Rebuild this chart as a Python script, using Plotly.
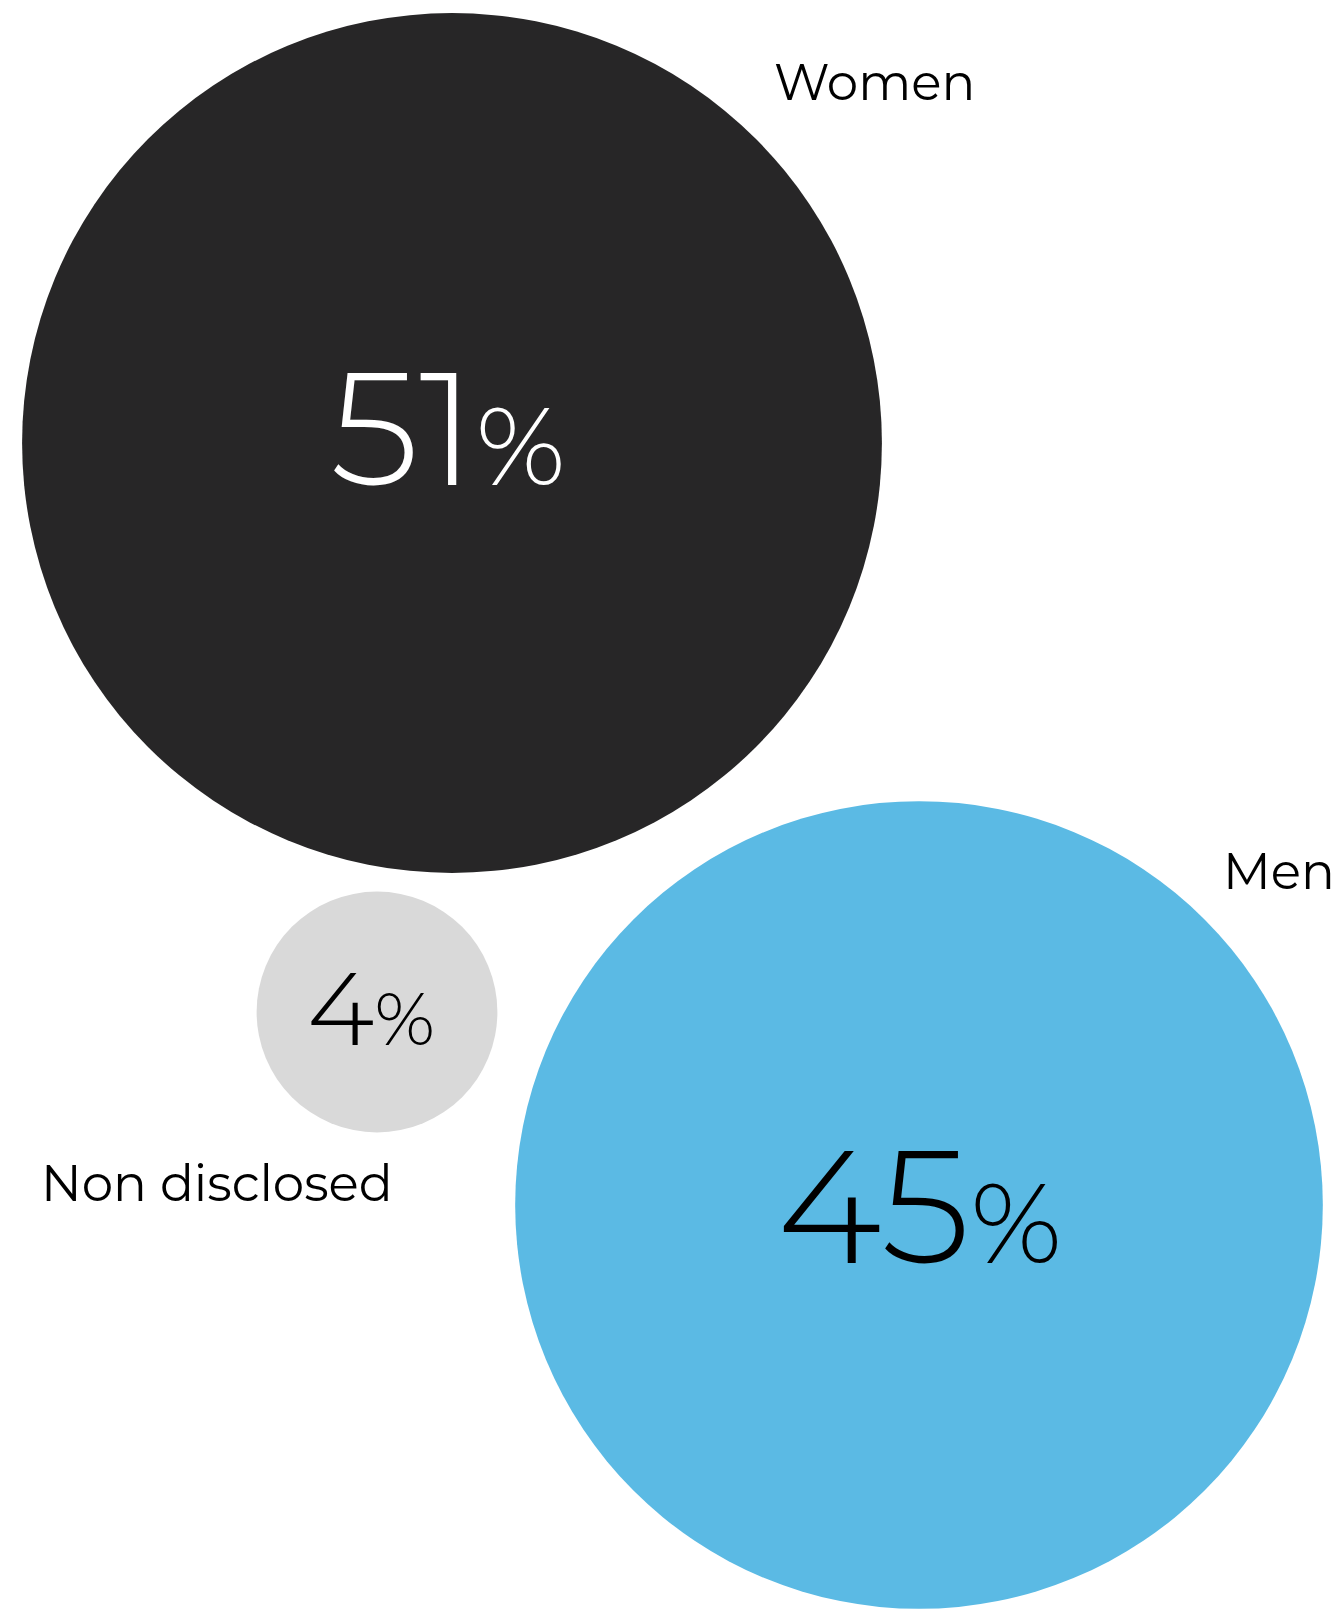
import math
import plotly.graph_objects as go

# ---- data ----
categories = ["Women", "Men", "Non disclosed"]
values = [51, 45, 4]

# ---- layout (pixel coordinates of bubble centres and label anchors) ----
centers_x = [452, 919, 377]
centers_y = [443, 1205, 1012]
pct_x = [448, 919, 371]
pct_y = [427, 1205, 1008]
label_x = [874, 1279, 217]
label_y = [82, 871, 1183]
colors = ["#272627", "#5BBAE4", "#D9D9D9"]
text_colors = ["#FFFFFF", "#000000", "#000000"]
num_sizes = [160, 160, 103]
pct_sizes = [110, 112, 74]

W, H = 1343, 1612
K = 60.2  # radius per sqrt(percentage point), px

diam = [2 * K * math.sqrt(v) for v in values]

FONT = "Montserrat, Lato, Inter, sans-serif"

fig = go.Figure()
fig.add_trace(go.Scatter(
    x=centers_x, y=centers_y, mode="markers",
    marker=dict(size=diam, sizemode="diameter", color=colors, opacity=1,
                line=dict(width=0)),
    hoverinfo="skip", showlegend=False,
))

annotations = []
for i, cat in enumerate(categories):
    annotations.append(dict(
        x=pct_x[i], y=pct_y[i], xref="x", yref="y",
        text=f"{values[i]}<span style='font-size:{pct_sizes[i]}px'>%</span>",
        showarrow=False, xanchor="center", yanchor="middle",
        font=dict(family=FONT, size=num_sizes[i], color=text_colors[i], weight=300),
    ))
    annotations.append(dict(
        x=label_x[i], y=label_y[i], xref="x", yref="y",
        text=cat, showarrow=False, xanchor="center", yanchor="middle",
        font=dict(family=FONT, size=50, color="#000000", weight=400),
    ))

fig.update_layout(
    width=W, height=H,
    margin=dict(l=0, r=0, t=0, b=0),
    paper_bgcolor="#FFFFFF", plot_bgcolor="#FFFFFF",
    xaxis=dict(range=[0, W], visible=False, fixedrange=True),
    yaxis=dict(range=[H, 0], visible=False, fixedrange=True),
    annotations=annotations,
)
fig.write_html("out.html", config={"displayModeBar": False})
